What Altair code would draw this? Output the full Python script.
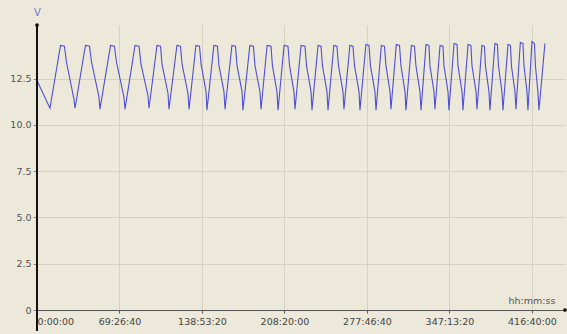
import altair as alt
import pandas as pd

# Battery voltage (V) over time (hours); each cycle: trough, rise end (peak), plateau end, knee, sag end
start_t = 0.0
start_v = 12.4

trough_t = [10.9, 32.0, 53.0, 74.1, 94.3, 111.1, 128.0, 143.1, 158.3, 173.4,
            188.6, 202.9, 217.2, 231.5, 245.0, 258.4, 271.9, 285.4, 298.0, 310.6,
            323.3, 335.0, 346.8, 358.6, 370.4, 381.3, 392.3, 403.2, 413.3, 422.6]
trough_v = [10.9, 10.9, 10.85, 10.85, 10.9, 10.85, 10.85, 10.8, 10.85, 10.8,
            10.85, 10.8, 10.85, 10.8, 10.8, 10.85, 10.8, 10.8, 10.85, 10.8,
            10.8, 10.85, 10.8, 10.8, 10.85, 10.8, 10.8, 10.85, 10.8, 10.8]
peak_t = [19.8, 40.8, 61.9, 82.5, 101.0, 117.8, 133.8, 148.9, 164.1, 179.2,
          193.7, 208.0, 222.3, 236.6, 249.9, 263.4, 276.9, 289.9, 302.5, 315.2,
          327.5, 339.3, 351.1, 362.9, 374.6, 385.5, 396.5, 406.9, 416.7, 427.6]
peak_v = [14.3, 14.3, 14.3, 14.3, 14.3, 14.3, 14.3, 14.3, 14.3, 14.3,
          14.3, 14.3, 14.3, 14.3, 14.3, 14.3, 14.35, 14.3, 14.35, 14.3,
          14.35, 14.3, 14.4, 14.35, 14.3, 14.4, 14.35, 14.45, 14.5, 14.4]
plateau_t = [23.1, 44.2, 65.2, 85.9, 104.0, 120.8, 136.8, 151.9, 167.1, 182.2,
             197.0, 211.3, 225.6, 239.1, 252.5, 266.0, 279.5, 292.5, 305.2, 317.8,
             330.0, 341.8, 353.6, 365.3, 376.7, 387.6, 398.6, 409.1, 418.8]
plateau_v = [14.25, 14.25, 14.25, 14.25, 14.25, 14.25, 14.25, 14.25, 14.25, 14.25,
             14.25, 14.25, 14.25, 14.25, 14.25, 14.25, 14.3, 14.25, 14.3, 14.25,
             14.3, 14.25, 14.35, 14.3, 14.25, 14.35, 14.3, 14.4, 14.4]
knee_t = [24.8, 45.9, 66.9, 87.5, 105.2, 122.1, 138.1, 153.2, 168.4, 183.5,
          198.2, 212.6, 226.9, 240.3, 253.8, 267.3, 280.7, 293.8, 306.4, 319.0,
          330.8, 342.6, 354.4, 366.2, 377.5, 388.5, 399.4, 410.0, 419.6]
knee_v = [13.4, 13.4, 13.4, 13.3, 13.3, 13.3, 13.3, 13.2, 13.2, 13.2,
          13.2, 13.2, 13.2, 13.2, 13.2, 13.2, 13.2, 13.2, 13.2, 13.2,
          13.2, 13.2, 13.2, 13.2, 13.2, 13.2, 13.2, 13.2, 13.2]
sag_t = [31.1, 52.2, 73.2, 93.4, 110.3, 127.1, 142.3, 157.4, 172.6, 187.7,
         202.0, 216.3, 230.7, 244.1, 257.6, 271.1, 284.5, 297.2, 309.8, 322.4,
         334.2, 346.0, 357.8, 369.6, 380.5, 391.4, 402.4, 412.5, 421.7]
sag_v = [11.4, 11.5, 11.5, 11.6, 11.7, 11.7, 11.8, 11.8, 11.8, 11.8,
         11.8, 11.8, 11.8, 11.8, 11.8, 11.8, 11.8, 11.8, 11.8, 11.8,
         11.8, 11.8, 11.8, 11.8, 11.8, 11.8, 11.8, 11.8, 11.8]

x_ticks = [0, 69.4444, 138.8889, 208.3333, 277.7778, 347.2222, 416.6667]
y_ticks = [0, 2.5, 5.0, 7.5, 10.0, 12.5]

rows = [(start_t, start_v)]
for i in range(len(trough_t)):
    rows.append((trough_t[i], trough_v[i]))
    rows.append((peak_t[i], peak_v[i]))
    if i < len(plateau_t):
        rows.append((plateau_t[i], plateau_v[i]))
        rows.append((knee_t[i], knee_v[i]))
        rows.append((sag_t[i], sag_v[i]))
df = pd.DataFrame(rows, columns=["t", "v"])
df["order"] = range(len(df))

BG = "#ECE8DA"
FONT = "DejaVu Sans"

s = "round(datum.value*3600)"
label_expr = (f"floor({s}/3600) + ':' + (floor({s}%3600/60) < 10 ? '0' : '') + floor({s}%3600/60)"
              f" + ':' + ({s}%60 < 10 ? '0' : '') + ({s}%60)")

x_enc = alt.X("t:Q", scale=alt.Scale(domain=[0, 444.5], nice=False, zero=False),
              axis=alt.Axis(values=x_ticks, labelExpr=label_expr, title="hh:mm:ss",
                            titleX=471, titleY=-7, titleAlign="left", titleBaseline="alphabetic",
                            titleFontWeight="normal", titleFontSize=9.5, titleColor="#555555",
                            titleFont=FONT,
                            labelFont=FONT, labelFontSize=9.5, labelColor="#444444",
                            labelPadding=3, tickSize=3, tickColor="#555555",
                            domainColor="#555555", domainWidth=1.2,
                            grid=True, gridColor="#D5D1C3", gridWidth=1))
y_enc = alt.Y("v:Q", scale=alt.Scale(domain=[0, 15.4], nice=False),
              axis=alt.Axis(values=y_ticks,
                            labelExpr="datum.value == 0 ? '0' : format(datum.value, '.1f')",
                            title="V", titleAngle=0, titleX=0, titleY=-13,
                            titleAlign="center", titleBaseline="middle",
                            titleFontWeight="normal", titleFontSize=10, titleColor="#7777DD",
                            titleFont=FONT,
                            labelFont=FONT, labelFontSize=9.5, labelColor="#555555",
                            labelPadding=2, tickSize=4, tickColor="#888888",
                            domain=False,
                            grid=True, gridColor="#D5D1C3", gridWidth=1))

line = alt.Chart(df).mark_line(color="#4F4FD4", strokeWidth=1.1).encode(
    x=x_enc, y=y_enc, order="order:Q")

yaxis_line = alt.Chart(df).mark_rule(color="#111111", strokeWidth=2).encode(
    x=alt.value(0), y=alt.value(0), y2=alt.value(306))

dot_df = pd.DataFrame({"k": [0]})
dot_top = alt.Chart(dot_df).mark_circle(color="#111111", opacity=1, size=14).encode(
    x=alt.value(0), y=alt.value(0))
dot_right = alt.Chart(dot_df).mark_circle(color="#111111", opacity=1, size=14).encode(
    x=alt.value(528), y=alt.value(285))

chart = alt.layer(line, yaxis_line, dot_top, dot_right).properties(
    width=528, height=285,
    background=BG,
    padding={"left": 37, "top": 25, "right": 2, "bottom": 24},
    autosize=alt.AutoSizeParams(type="none"),
).configure_view(stroke=None, fill=BG)

chart.save("out.html", embed_options={"renderer": "svg", "actions": False})
